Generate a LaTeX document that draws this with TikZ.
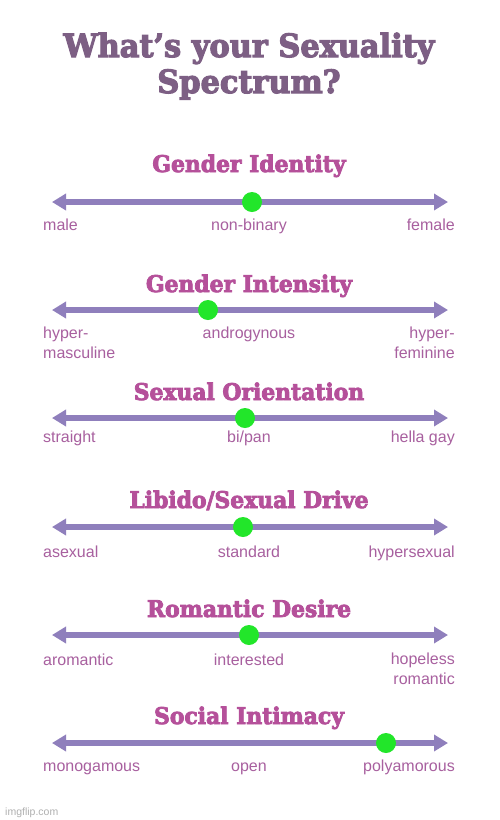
\documentclass[tikz,border=0pt]{standalone}
\usepackage{fontspec}
\setmainfont{Liberation Sans}
\newfontfamily\headfont[BoldFeatures={FakeBold=3.5,FakeStretch=0.95}]{DejaVu Serif}
\usetikzlibrary{arrows.meta}
\definecolor{titlecol}{HTML}{7D5F84}
\definecolor{headcol}{HTML}{B5509A}
\definecolor{barcol}{HTML}{8F7FBC}
\definecolor{labcol}{HTML}{A8609F}
\definecolor{dotcol}{HTML}{22E62A}
\definecolor{wmcol}{HTML}{B0B0B0}
\tikzset{
  titletext/.style={text=titlecol, font=\headfont\bfseries\fontsize{32}{36}\selectfont, inner sep=0pt, anchor=base},
  headtext/.style={text=headcol, font=\headfont\bfseries\fontsize{23}{25}\selectfont, inner sep=0pt, anchor=base},
  labl/.style={text=labcol, font=\fontsize{16}{19.5}\selectfont, inner sep=0pt, anchor=base west, align=left},
  labc/.style={text=labcol, font=\fontsize{16}{19.5}\selectfont, inner sep=0pt, anchor=base},
  labr/.style={text=labcol, font=\fontsize{16}{19.5}\selectfont, inner sep=0pt, anchor=base east, align=right},
  spectrum/.style={draw=barcol, line width=6pt, {Triangle[width=16pt,length=14pt]}-{Triangle[width=16pt,length=14pt]}},
  marker/.style={circle, fill=dotcol, inner sep=0pt, minimum size=20pt},
}
\begin{document}
\begin{tikzpicture}[x=1pt,y=-1pt]
\useasboundingbox[fill=white] (0,0) rectangle (500,820);
\node[titletext] (t1) at (249,57) {What’s your Sexuality};
\node[titletext] (t2) at (249,93) {Spectrum?};

% Row 1
\node[headtext] (h1) at (249,172) {Gender Identity};
\coordinate (l1) at (52,202); \coordinate (r1) at (448,202);
\draw[spectrum] (l1) -- (r1);
\node[marker] (d1) at (252,202) {};
\node[labl] (a1) at (43,230) {male};
\node[labc] (b1) at (249,230) {non-binary};
\node[labr] (c1) at (455,230) {female};

% Row 2
\node[headtext] (h2) at (249,292) {Gender Intensity};
\coordinate (l2) at (52,310); \coordinate (r2) at (448,310);
\draw[spectrum] (l2) -- (r2);
\node[marker] (d2) at (208,310) {};
\node[labl] (a2) at (43,358) {hyper-\\masculine};
\node[labc] (b2) at (249,338) {androgynous};
\node[labr] (c2) at (455,358) {hyper-\\feminine};

% Row 3
\node[headtext] (h3) at (249,400) {Sexual Orientation};
\coordinate (l3) at (52,418); \coordinate (r3) at (448,418);
\draw[spectrum] (l3) -- (r3);
\node[marker] (d3) at (245,418) {};
\node[labl] (a3) at (43,442) {straight};
\node[labc] (b3) at (249,442) {bi/pan};
\node[labr] (c3) at (455,442) {hella gay};

% Row 4
\node[headtext] (h4) at (249,508) {Libido/Sexual Drive};
\coordinate (l4) at (52,527); \coordinate (r4) at (448,527);
\draw[spectrum] (l4) -- (r4);
\node[marker] (d4) at (243,527) {};
\node[labl] (a4) at (43,557) {asexual};
\node[labc] (b4) at (249,557) {standard};
\node[labr] (c4) at (455,557) {hypersexual};

% Row 5
\node[headtext] (h5) at (249,617) {Romantic Desire};
\coordinate (l5) at (52,635); \coordinate (r5) at (448,635);
\draw[spectrum] (l5) -- (r5);
\node[marker] (d5) at (249,635) {};
\node[labl] (a5) at (43,665) {aromantic};
\node[labc] (b5) at (249,665) {interested};
\node[labr] (c5) at (455,684) {hopeless\\romantic};

% Row 6
\node[headtext] (h6) at (249,724) {Social Intimacy};
\coordinate (l6) at (52,743); \coordinate (r6) at (448,743);
\draw[spectrum] (l6) -- (r6);
\node[marker] (d6) at (386,743) {};
\node[labl] (a6) at (43,771) {monogamous};
\node[labc] (b6) at (249,771) {open};
\node[labr] (c6) at (455,771) {polyamorous};

\node[text=wmcol, font=\fontsize{10.5}{12}\selectfont, inner sep=0pt, anchor=base west] (wm) at (5,815) {imgflip.com};
\end{tikzpicture}
\end{document}
